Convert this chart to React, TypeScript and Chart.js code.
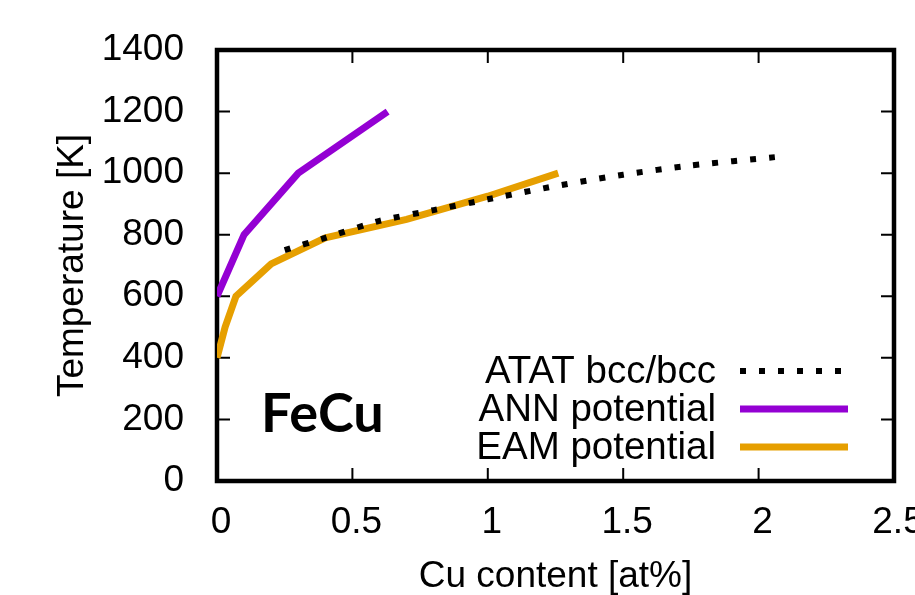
import React, { useEffect, useRef } from 'react';
import { Chart, registerables } from 'chart.js';

Chart.register(...registerables);

// ---- data ----
const xTickValues = [0, 0.5, 1, 1.5, 2, 2.5];
const yTickValues = [0, 200, 400, 600, 800, 1000, 1200, 1400];

const atatX = [0.25, 0.4, 0.6, 0.8, 1.0, 1.25, 1.5, 1.75, 2.06];
const atatT = [750, 790, 845, 880, 915, 958, 995, 1025, 1052];

const annX = [0, 0.1, 0.3, 0.63];
const annT = [600, 800, 1000, 1200];

const eamX = [0, 0.03, 0.07, 0.2, 0.4, 0.7, 1.0, 1.26];
const eamT = [400, 500, 600, 705, 790, 850, 925, 1000];

const seriesLabels = ['ATAT bcc/bcc', 'ANN potential', 'EAM potential'];
const systemLabel = 'FeCu';
const xTitle = 'Cu content [at%]';
const yTitle = 'Temperature [K]';

const FONT = "'Liberation Sans', Arial, Helvetica, sans-serif";

const toPoints = (xs: number[], ys: number[]) => xs.map((x, i) => ({ x, y: ys[i] }));

const framePlugin = {
  id: 'gnuFrame',
  beforeDatasetsDraw(chart: any) {
    const { ctx, chartArea: a, scales } = chart;
    const xs = scales.x;
    const ys = scales.y;
    ctx.save();
    ctx.strokeStyle = '#000';
    ctx.lineWidth = 2;
    ctx.beginPath();
    const tl = 13;
    xTickValues.forEach((v) => {
      const px = xs.getPixelForValue(v);
      ctx.moveTo(px, a.bottom);
      ctx.lineTo(px, a.bottom - tl);
      ctx.moveTo(px, a.top);
      ctx.lineTo(px, a.top + tl);
    });
    yTickValues.forEach((v) => {
      const py = ys.getPixelForValue(v);
      ctx.moveTo(a.left, py);
      ctx.lineTo(a.left + tl, py);
      ctx.moveTo(a.right, py);
      ctx.lineTo(a.right - tl, py);
    });
    ctx.stroke();
    ctx.lineWidth = 4.5;
    ctx.strokeRect(a.left, a.top, a.right - a.left, a.bottom - a.top);
    ctx.restore();
  },
  afterDatasetsDraw(chart: any) {
    const { ctx } = chart;
    ctx.save();
    // legend
    ctx.font = `38.5px ${FONT}`;
    ctx.textAlign = 'right';
    ctx.textBaseline = 'middle';
    chart.data.datasets.forEach((ds: any, i: number) => {
      const yy = 371 + i * 38;
      ctx.fillStyle = '#000';
      ctx.fillText(ds.label, 716, yy + 1);
      ctx.beginPath();
      ctx.strokeStyle = ds.borderColor;
      ctx.lineWidth = ds.borderWidth;
      ctx.setLineDash(ds.borderDash || []);
      ctx.lineCap = 'butt';
      ctx.moveTo(740, yy);
      ctx.lineTo(848, yy);
      ctx.stroke();
      ctx.setLineDash([]);
    });
    // system label
    ctx.font = `bold 54px Lato, 'Noto Sans', sans-serif`;
    ctx.textAlign = 'left';
    ctx.textBaseline = 'alphabetic';
    ctx.fillStyle = '#000';
    ctx.fillText(systemLabel, 261, 432);
    ctx.restore();
  },
};

export default function App() {
  const ref = useRef<HTMLCanvasElement | null>(null);

  useEffect(() => {
    if (!ref.current) return;
    const chart = new Chart(ref.current, {
      type: 'line',
      data: {
        datasets: [
          {
            label: seriesLabels[0],
            data: toPoints(atatX, atatT),
            borderColor: '#000000',
            borderWidth: 6,
            borderDash: [6, 13],
            borderCapStyle: 'butt',
            pointRadius: 0,
            tension: 0.2,
            fill: false,
          },
          {
            label: seriesLabels[1],
            data: toPoints(annX, annT),
            borderColor: '#9400D3',
            borderWidth: 7,
            pointRadius: 0,
            tension: 0,
            fill: false,
          },
          {
            label: seriesLabels[2],
            data: toPoints(eamX, eamT),
            borderColor: '#E69F00',
            borderWidth: 7,
            pointRadius: 0,
            tension: 0,
            fill: false,
          },
        ],
      },
      options: {
        animation: false,
        responsive: false,
        maintainAspectRatio: false,
        layout: { padding: { top: 50, right: 66, left: 0, bottom: 0 } },
        plugins: {
          legend: { display: false },
          tooltip: { enabled: false },
        },
        scales: {
          x: {
            type: 'linear',
            min: 0,
            max: 2.5,
            grid: { display: false },
            border: { display: false },
            ticks: {
              stepSize: 0.5,
              padding: 12,
              labelOffset: 4,
              color: '#000',
              font: { family: FONT, size: 37 },
              maxRotation: 0,
              callback: (v: any) => String(v),
            },
            title: {
              display: true,
              text: xTitle,
              color: '#000',
              font: { family: FONT, size: 37, lineHeight: 1 },
              padding: 0,
            },
            afterFit: (s: any) => {
              s.height = 114;
            },
          },
          y: {
            type: 'linear',
            min: 0,
            max: 1400,
            grid: { display: false },
            border: { display: false },
            ticks: {
              stepSize: 200,
              padding: 25,
              color: '#000',
              font: { family: FONT, size: 37 },
              callback: (v: any) => String(v),
            },
            title: {
              display: true,
              text: yTitle,
              color: '#000',
              font: { family: FONT, size: 37, lineHeight: 1 },
              padding: { top: 54, bottom: 0 },
            },
            afterFit: (s: any) => {
              s.width = 217;
            },
          },
        },
      },
      plugins: [framePlugin],
    } as any);
    return () => chart.destroy();
  }, []);

  return (
    <div
      style={{
        position: 'fixed',
        left: 0,
        top: 0,
        width: 915,
        height: 595,
        overflow: 'hidden',
        background: '#fff',
      }}
    >
      <canvas ref={ref} width={960} height={595} style={{ width: 960, height: 595, display: 'block' }} />
    </div>
  );
}
